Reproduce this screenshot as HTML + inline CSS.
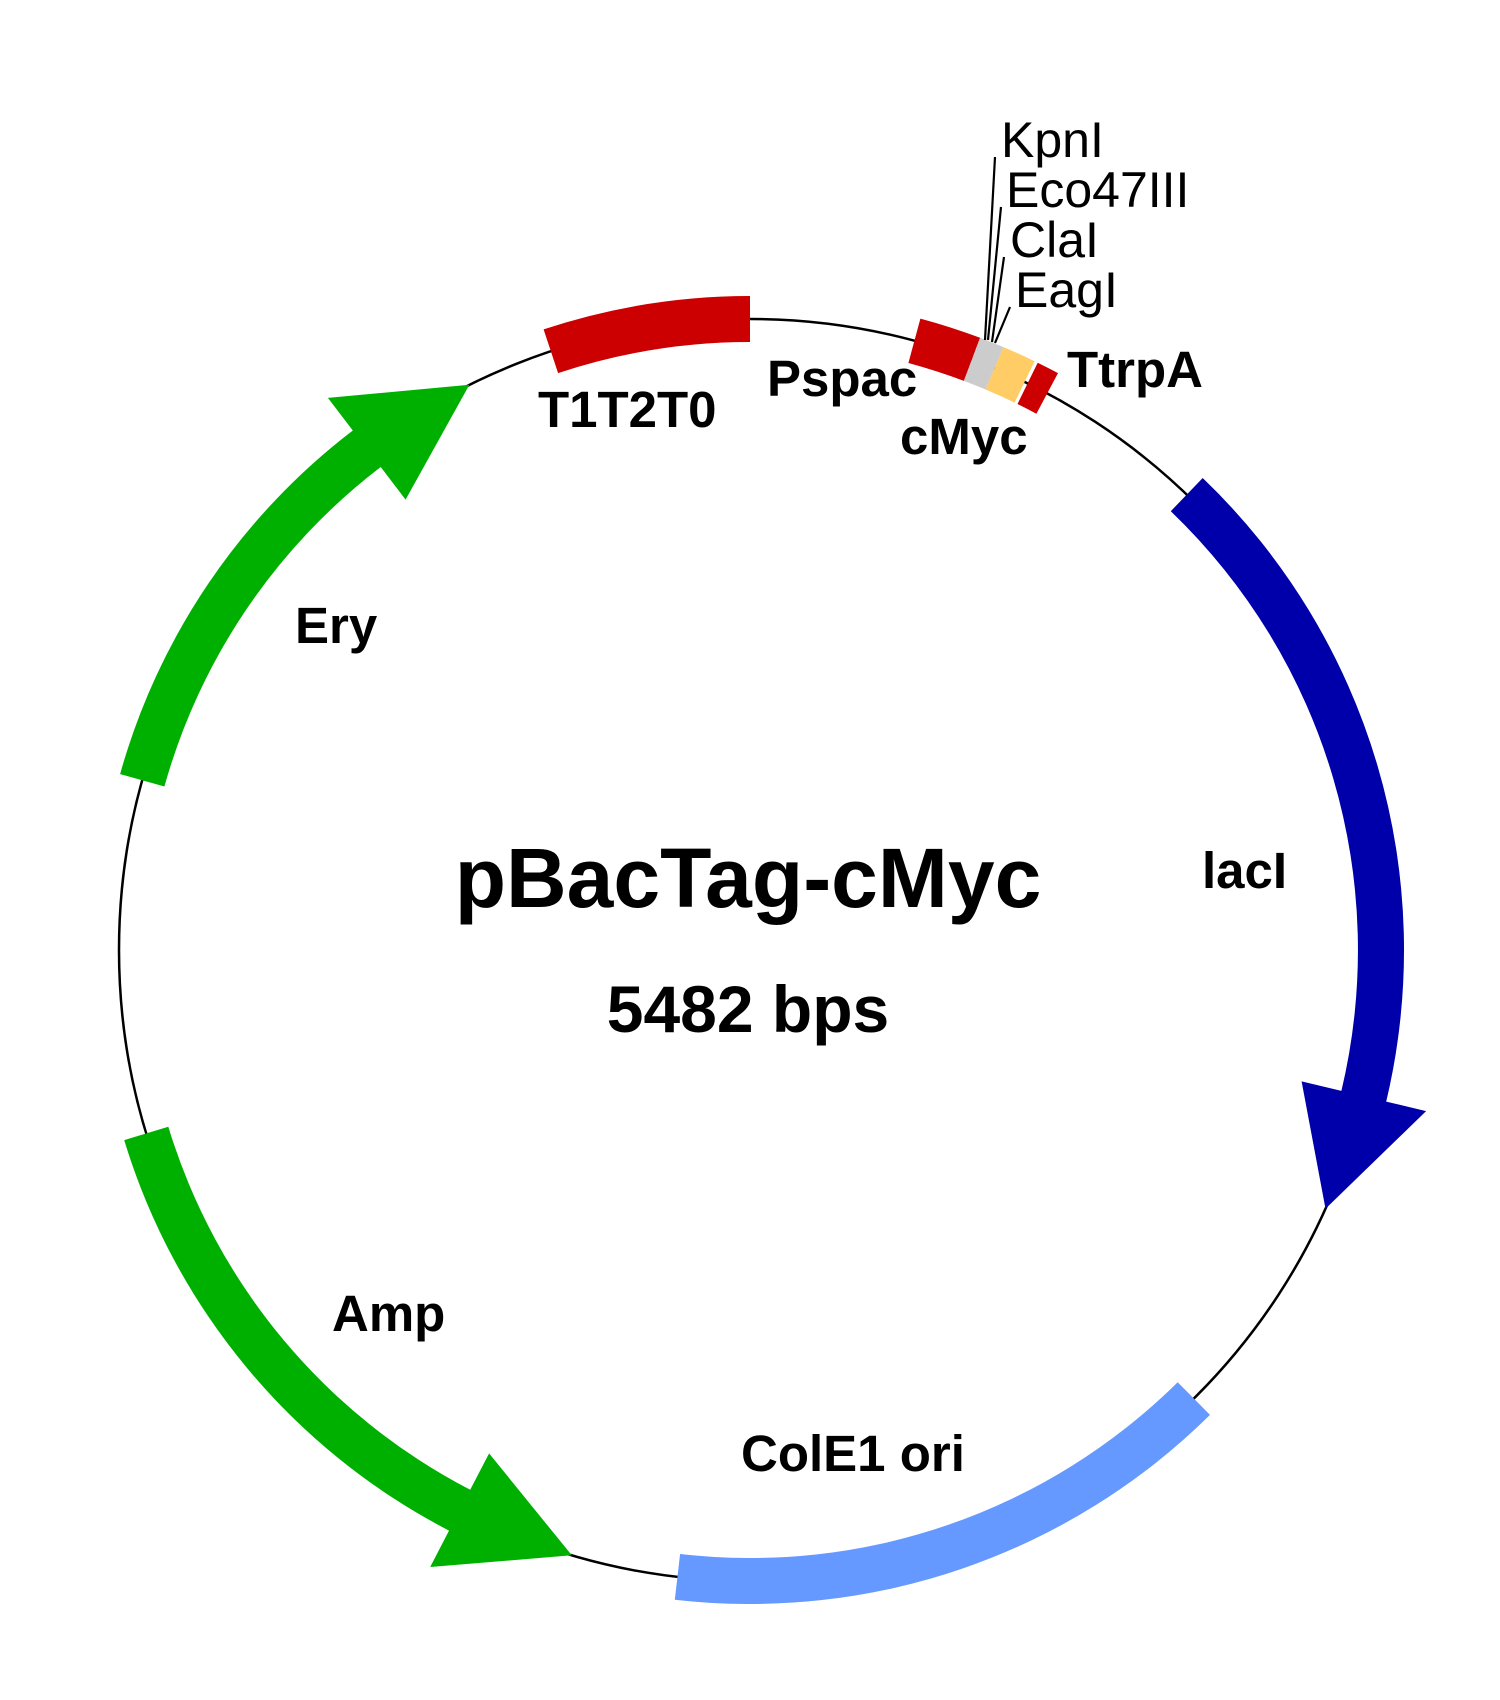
<!DOCTYPE html>
<html><head><meta charset="utf-8"><style>
html,body{margin:0;padding:0;background:#fff;width:1500px;height:1700px;overflow:hidden}
svg{display:block}
.b{font-family:"Liberation Sans",Arial,sans-serif;font-weight:bold;fill:#000}
.n{font-family:"Liberation Sans",Arial,sans-serif;fill:#000}
</style></head><body>
<svg id="s" width="1500" height="1700" viewBox="0 0 1500 1700" xmlns="http://www.w3.org/2000/svg">
<circle cx="750" cy="950" r="631" fill="none" stroke="#000" stroke-width="2.5"/>
<g id="feat"></g>
<g stroke="#000" stroke-width="2.2" fill="none">
<line x1="995" y1="157" x2="985" y2="340"/>
<line x1="1001" y1="207" x2="988" y2="340"/>
<line x1="1004" y1="257" x2="992" y2="342"/>
<line x1="1010" y1="307" x2="995" y2="343"/>
</g>
<text class="n" x="1001" y="157" font-size="50">KpnI</text>
<text class="n" x="1006" y="207" font-size="50">Eco47III</text>
<text class="n" x="1010" y="257" font-size="50">ClaI</text>
<text class="n" x="1015" y="307" font-size="50">EagI</text>
<text class="b" x="538" y="427" font-size="51">T1T2T0</text>
<text class="b" x="767" y="396" font-size="51">Pspac</text>
<text class="b" x="900" y="454" font-size="51">cMyc</text>
<text class="b" x="1067" y="387" font-size="51">TtrpA</text>
<text class="b" x="295" y="643" font-size="51">Ery</text>
<text class="b" x="1202" y="888" font-size="51">lacI</text>
<text class="b" x="332" y="1331" font-size="51">Amp</text>
<text class="b" x="741" y="1471" font-size="51">ColE1 ori</text>
<text class="b" x="748" y="907" font-size="84" text-anchor="middle">pBacTag-cMyc</text>
<text class="b" x="748" y="1032" font-size="66" text-anchor="middle">5482 bps</text>
</svg>
<script>
var cx=750,cy=950,R=631,H=23,AH=64;
function P(r,a){a=a*Math.PI/180;return [cx+r*Math.sin(a),cy-r*Math.cos(a)];}
function f(p){return p[0].toFixed(1)+","+p[1].toFixed(1);}
function arc(r,a1,a2){var sw=a2>a1?1:0;var lg=Math.abs(a2-a1)>180?1:0;return "A"+r+","+r+" 0 "+lg+","+sw+" "+f(P(r,a2));}
function band(a1,a2,col){
 var d="M"+f(P(R+H,a1))+arc(R+H,a1,a2)+"L"+f(P(R-H,a2))+arc(R-H,a2,a1)+"Z";
 return '<path d="'+d+'" fill="'+col+'"/>';}
function arrow(a1,ab,at,col){
 var d="M"+f(P(R+H,a1))+arc(R+H,a1,ab)+"L"+f(P(R+AH,ab))+"L"+f(P(R,at))+"L"+f(P(R-AH,ab))+"L"+f(P(R-H,ab))+arc(R-H,ab,a1)+"Z";
 return '<path d="'+d+'" fill="'+col+'"/>';}
var h="";
h+=band(-18.4,0,"#cc0000");
h+=band(15.1,20.6,"#cc0000");
h+=band(20.6,22.8,"#cccccc");
h+=band(22.8,25.8,"#ffcc66");
h+=band(26.1,28.1,"#cc0000");
h+=band(135.3,186.6,"#6699ff");
h+=arrow(43.8,103.4,114.2,"#0000aa");
h+=arrow(253.1,207.4,196.4,"#00b000");
h+=arrow(285.6,322.6,333.6,"#00b000");
document.getElementById("feat").innerHTML=h;
</script>
</body></html>
